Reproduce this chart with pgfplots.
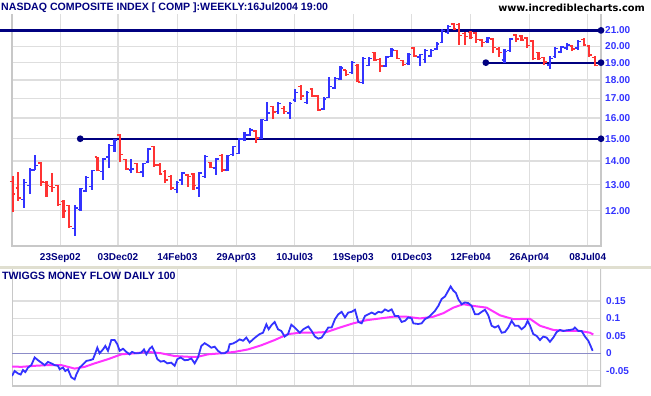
\documentclass[border=0pt]{standalone}
\usepackage{fontspec}
\setmainfont{Liberation Sans}
\newfontfamily\dejavu{DejaVu Sans}
\usepackage{pgfplots}
\usepackage{pgfplotstable}
\pgfplotsset{compat=1.18}
\definecolor{navy}{RGB}{0,0,128}
\definecolor{barblue}{RGB}{51,51,255}
\definecolor{barred}{RGB}{255,51,51}
\definecolor{gridgrey}{RGB}{222,222,222}
\definecolor{framegrey}{RGB}{200,200,200}
\definecolor{tmfmag}{RGB}{255,51,255}
\definecolor{zeroline}{RGB}{140,140,200}
\definecolor{sepcol}{RGB}{224,223,208}
\newcommand\lbl{\fontsize{10bp}{12bp}\selectfont\bfseries}
\newcommand\ttl{\fontsize{10.6bp}{12bp}\selectfont\bfseries}
\pgfdeclareplotmark{otick}{\pgfpathmoveto{\pgfqpoint{-2.8bp}{0pt}}\pgfpathlineto{\pgfqpoint{0pt}{0pt}}\pgfusepathqstroke}
\pgfdeclareplotmark{ctick}{\pgfpathmoveto{\pgfqpoint{0pt}{0pt}}\pgfpathlineto{\pgfqpoint{2.8bp}{0pt}}\pgfusepathqstroke}

\pgfplotstableread{
x o h l c
2 12.43 13.23 12.10 13.09
3 12.97 13.69 12.65 13.62
4 13.62 14.27 13.61 13.80
11 11.36 12.22 11.10 12.10
12 12.03 12.89 11.97 12.84
13 12.76 13.34 12.72 13.31
14 12.93 13.62 12.80 13.59
16 13.55 14.12 13.20 14.08
17 14.17 14.77 13.69 14.69
18 14.69 15.00 14.41 14.95
21 13.62 14.08 13.47 13.65
23 13.52 13.91 13.31 13.88
24 13.95 14.57 13.91 14.53
29 12.80 13.17 12.66 13.09
30 13.20 13.51 13.00 13.48
33 12.87 13.51 12.53 13.48
34 13.34 14.27 13.27 14.20
36 13.69 14.12 13.41 14.08
38 13.62 14.27 13.55 14.23
39 14.27 14.68 14.20 14.63
40 14.34 15.04 14.31 14.99
41 14.99 15.30 14.90 15.18
42 15.18 15.50 15.15 15.42
44 15.04 15.97 15.00 15.93
45 15.86 16.83 15.86 16.25
47 16.33 16.80 16.20 16.74
49 16.25 16.80 15.97 16.74
50 16.92 17.52 16.83 17.31
52 16.80 17.41 16.71 17.32
55 16.46 17.06 16.42 16.98
56 17.06 18.16 17.03 17.64
57 17.56 18.16 17.53 18.10
58 18.05 18.78 18.00 18.69
60 18.42 19.11 18.33 19.02
62 17.87 19.34 17.78 19.26
63 18.84 19.34 18.78 19.26
66 18.81 19.40 18.75 19.34
67 19.36 19.88 19.34 19.76
70 18.96 19.55 18.86 19.48
72 19.34 19.51 18.82 19.48
73 19.20 19.82 18.98 19.72
74 19.40 19.82 19.34 19.72
75 19.82 20.23 19.76 20.12
76 20.23 21.10 20.18 20.99
77 20.88 21.36 20.77 21.25
84 20.30 20.60 20.18 20.52
87 19.16 19.83 18.98 19.66
88 19.72 20.54 19.67 20.45
95 18.86 19.38 18.62 19.26
96 19.38 19.94 19.30 19.87
97 19.63 19.98 19.55 19.94
98 19.88 20.18 19.76 20.07
100 19.88 20.39 19.76 20.29
}\upbars

\pgfplotstableread{
x o h l c
0 13.13 13.34 11.93 12.64
1 12.87 13.54 12.37 12.47
5 13.91 13.95 12.96 13.12
6 13.09 13.17 12.53 12.97
7 12.93 13.50 12.73 12.89
8 12.96 13.00 12.19 12.22
9 12.34 12.41 11.72 11.99
10 12.18 12.22 11.38 11.42
15 14.17 14.18 13.55 13.59
19 15.18 15.23 13.94 14.27
20 14.05 14.08 13.61 13.65
22 13.89 13.91 13.48 13.51
25 14.63 14.68 13.75 13.83
26 13.83 13.91 13.41 13.45
27 13.55 13.62 13.07 13.20
28 13.34 13.41 12.80 12.87
31 13.41 13.45 12.93 13.34
32 13.45 13.48 12.80 12.96
35 13.94 13.97 13.69 13.73
37 14.24 14.30 13.52 13.62
43 15.37 15.42 14.82 15.04
46 16.57 16.60 15.94 16.29
48 16.49 16.60 16.20 16.33
51 17.64 17.73 16.92 17.13
53 17.51 17.56 17.09 17.14
54 17.14 17.20 16.37 16.41
59 18.57 18.59 18.25 18.32
61 18.82 18.90 17.87 17.90
64 19.62 19.65 19.11 19.16
65 19.20 19.30 18.45 18.80
68 19.72 19.76 19.22 19.26
69 19.11 19.16 18.78 18.90
71 19.88 19.92 19.34 19.40
78 21.43 21.47 21.02 21.10
79 21.39 21.47 20.09 20.66
80 20.80 20.88 20.09 20.60
81 20.88 20.95 20.45 20.56
82 20.82 20.88 20.18 20.40
83 20.39 20.45 19.92 20.23
85 20.45 20.52 19.55 19.92
86 19.82 19.92 19.34 19.61
89 20.71 20.77 20.28 20.45
90 20.65 20.71 20.33 20.39
91 20.52 20.58 19.88 20.04
92 20.33 20.39 19.13 19.26
93 19.61 19.67 19.16 19.23
94 19.32 19.34 18.86 19.04
99 20.01 20.07 19.70 19.82
101 20.43 20.50 19.98 20.07
102 20.01 20.07 19.34 19.46
103 19.30 19.40 18.78 18.85
}\downbars

\pgfplotstableread{
x v
-0.12 -0.065
0.35 -0.051
0.94 -0.058
1.41 -0.061
1.82 -0.048
2.24 -0.054
2.71 -0.041
3.30 -0.034
3.89 -0.012
4.48 -0.020
5.07 -0.027
5.66 -0.034
6.25 -0.025
6.84 -0.029
7.42 -0.034
8.01 -0.036
8.31 -0.046
8.90 -0.041
9.31 -0.051
9.78 -0.046
10.37 -0.069
10.96 -0.075
11.26 -0.061
11.85 -0.041
12.44 -0.032
13.03 -0.022
13.62 -0.020
14.21 -0.017
14.62 0.000
14.97 0.016
15.38 0.000
15.97 0.011
16.39 0.021
16.86 0.007
17.45 0.038
18.04 0.038
18.51 0.026
18.92 0.007
19.51 0.013
20.10 0.004
20.69 -0.003
21.10 0.004
21.69 0.000
22.28 0.000
22.75 0.002
23.23 0.011
23.64 -0.003
24.23 0.013
24.64 0.019
25.11 0.004
25.59 -0.017
26.17 -0.024
26.76 -0.022
27.35 -0.029
28.06 -0.027
28.65 -0.036
29.12 -0.017
29.71 -0.012
30.42 -0.020
31.01 -0.019
31.60 -0.015
32.19 -0.029
32.78 -0.012
33.37 0.021
33.96 0.029
34.55 0.023
35.14 0.016
35.73 0.019
36.32 0.007
36.91 0.000
37.50 0.000
38.09 0.007
38.38 0.026
38.97 0.028
39.56 0.033
40.15 0.040
40.74 0.036
41.33 0.045
41.92 0.031
42.51 0.040
43.10 0.048
43.69 0.055
44.28 0.059
44.87 0.083
45.28 0.069
45.75 0.080
46.34 0.090
46.93 0.069
47.52 0.064
48.11 0.048
48.70 0.055
49.29 0.082
49.88 0.074
50.47 0.064
50.82 0.059
51.41 0.069
52.29 0.077
52.88 0.064
53.47 0.048
54.06 0.042
54.65 0.045
55.24 0.059
55.83 0.074
56.42 0.074
57.01 0.098
57.60 0.112
58.19 0.119
58.78 0.103
59.37 0.117
59.96 0.119
60.55 0.125
61.14 0.090
61.73 0.086
62.32 0.107
62.91 0.112
63.50 0.117
64.09 0.112
64.68 0.119
65.27 0.117
65.86 0.126
66.45 0.121
67.03 0.126
67.62 0.107
68.21 0.107
68.80 0.090
69.39 0.093
69.98 0.103
70.57 0.100
70.87 0.086
71.75 0.084
72.34 0.086
72.93 0.098
73.52 0.103
74.11 0.112
74.70 0.122
75.29 0.136
75.88 0.156
76.47 0.163
77.06 0.180
77.47 0.192
77.94 0.180
78.41 0.173
78.83 0.155
79.42 0.141
80.01 0.146
80.60 0.144
81.19 0.136
81.78 0.112
82.37 0.112
82.96 0.119
83.54 0.125
84.13 0.109
84.72 0.079
85.31 0.074
85.90 0.079
86.49 0.059
87.08 0.061
87.67 0.074
88.26 0.093
88.85 0.079
89.44 0.079
90.03 0.069
90.62 0.077
91.09 0.093
91.50 0.080
92.09 0.055
92.68 0.050
93.27 0.038
93.86 0.048
94.45 0.045
95.04 0.033
95.63 0.045
96.22 0.061
96.81 0.067
97.40 0.064
97.99 0.066
98.58 0.067
99.17 0.069
99.46 0.074
100.05 0.064
100.64 0.064
101.23 0.048
101.82 0.036
102.23 0.021
102.59 0.007
}\tmf

\pgfplotstableread{
x v
-0.12 -0.038
1.53 -0.039
3.89 -0.036
6.25 -0.034
8.60 -0.034
10.96 -0.044
12.73 -0.039
14.50 -0.029
16.86 -0.017
19.22 -0.003
21.58 0.000
23.93 0.004
26.29 0.000
28.65 -0.008
31.01 -0.010
32.78 -0.010
34.55 -0.003
36.91 0.000
39.26 0.004
41.62 0.011
43.98 0.023
46.34 0.038
48.70 0.055
50.82 0.059
53.18 0.059
55.54 0.061
57.90 0.074
60.25 0.086
62.61 0.095
64.97 0.100
67.33 0.105
69.69 0.105
72.05 0.100
74.40 0.105
76.17 0.115
77.94 0.131
79.71 0.141
81.48 0.136
83.84 0.131
86.20 0.109
88.56 0.098
91.50 0.099
93.27 0.079
95.63 0.067
97.99 0.064
100.35 0.064
102.12 0.059
102.71 0.054
}\tmfma

\begin{document}
\begin{tikzpicture}[x=1bp,y=1bp]
\path[use as bounding box] (0,0) rectangle (651,395);
\fill[white] (0,0) rectangle (651,395);
\draw[sepcol, line width=2.5bp] (0,127.5) -- (651,127.5);

\begin{axis}[
  at={(12bp,149bp)}, anchor=south west, scale only axis,
  width=589bp, height=232bp,
  xmin=-0.12, xmax=104.07, ymode=log, ymin=10.75, ymax=22.1,
  clip=false,
  axis line style={draw=none}, tick style={draw=none},
  xtick={8.42,18.63,29.12,39.55,49.88,60.25,70.58,81.02,91.39,101.72},
  xticklabels={23Sep02,03Dec02,14Feb03,29Apr03,10Jul03,19Sep03,01Dec03,12Feb04,26Apr04,08Jul04},
  ytick={12,13,14,15,16,17,18,19,20,21},
  yticklabels={12.00,13.00,14.00,15.00,16.00,17.00,18.00,19.00,20.00,21.00},
  yticklabel pos=right,
  grid=major, major grid style={gridgrey, line width=1.2bp},
  ticklabel style={font=\lbl},
  xticklabel style={navy, anchor=north, inner sep=0pt, yshift=-7bp},
  yticklabel style={barblue, anchor=west, inner sep=0pt, xshift=4bp},
]
\draw[framegrey, line width=1.5bp] (rel axis cs:0,1) -- (rel axis cs:0,0) -- (rel axis cs:1,0) -- (rel axis cs:1,1);
\addplot[navy, line width=2.2bp, mark=*, mark size=2.2bp, mark indices={2}] coordinates {(-2.25,21) (104.07,21)};
\addplot[navy, line width=2.2bp, mark=*, mark size=2.2bp] coordinates {(11.95,15) (104.07,15)};
\addplot[navy, line width=2.2bp, mark=*, mark size=2.2bp] coordinates {(83.7,19) (104.07,19)};

\addplot[draw=none, mark=none, error bars/.cd, y dir=plus, y explicit, error mark=none,
  error bar style={draw=barblue, line width=2.2bp}]
  table[x=x, y=l, y error expr=\thisrow{h}-\thisrow{l}] {\upbars};
\addplot[barblue, only marks, mark=otick, mark options={line width=1.4bp}] table[x=x, y=o] {\upbars};
\addplot[barblue, only marks, mark=ctick, mark options={line width=1.4bp}] table[x=x, y=c] {\upbars};

\addplot[draw=none, mark=none, error bars/.cd, y dir=plus, y explicit, error mark=none,
  error bar style={draw=barred, line width=2.2bp}]
  table[x=x, y=l, y error expr=\thisrow{h}-\thisrow{l}] {\downbars};
\addplot[barred, only marks, mark=otick, mark options={line width=1.4bp}] table[x=x, y=o] {\downbars};
\addplot[barred, only marks, mark=ctick, mark options={line width=1.4bp}] table[x=x, y=c] {\downbars};
\end{axis}

\begin{axis}[
  at={(12bp,9bp)}, anchor=south west, scale only axis,
  width=589bp, height=117bp,
  xmin=-0.12, xmax=104.07, ymin=-0.094, ymax=0.242,
  axis line style={draw=none}, tick style={draw=none},
  xtick={8.42,18.63,29.12,39.55,49.88,60.25,70.58,81.02,91.39,101.72},
  xticklabels={},
  ytick={-0.05,0,0.05,0.1,0.15},
  yticklabels={-0.05,0,0.05,0.1,0.15},
  yticklabel pos=right,
  grid=major, major grid style={gridgrey, line width=1.2bp},
  ticklabel style={font=\lbl},
  yticklabel style={barblue, anchor=west, inner sep=0pt, xshift=5bp},
]
\draw[framegrey, line width=1.5bp] (rel axis cs:0,1) -- (rel axis cs:0,0) -- (rel axis cs:1,0) -- (rel axis cs:1,1);
\addplot[zeroline, line width=0.9bp] coordinates {(-0.12,0) (104.07,0)};
\addplot[tmfmag, line width=2bp] table[x=x, y=v] {\tmfma};
\addplot[barblue, line width=1.8bp] table[x=x, y=v] {\tmf};
\end{axis}

\node[anchor=west, inner sep=0pt, navy, font=\ttl] at (1,387) {NASDAQ COMPOSITE INDEX [ COMP ]:WEEKLY:16Jul2004 19:00};
\node[anchor=east, inner sep=0pt, black, font=\dejavu\fontsize{9.8bp}{11bp}\selectfont\bfseries] at (645,387) {www.incrediblecharts.com};
\node[anchor=west, inner sep=0pt, navy, font=\ttl] at (2,119) {TWIGGS MONEY FLOW DAILY 100};
\end{tikzpicture}
\end{document}
